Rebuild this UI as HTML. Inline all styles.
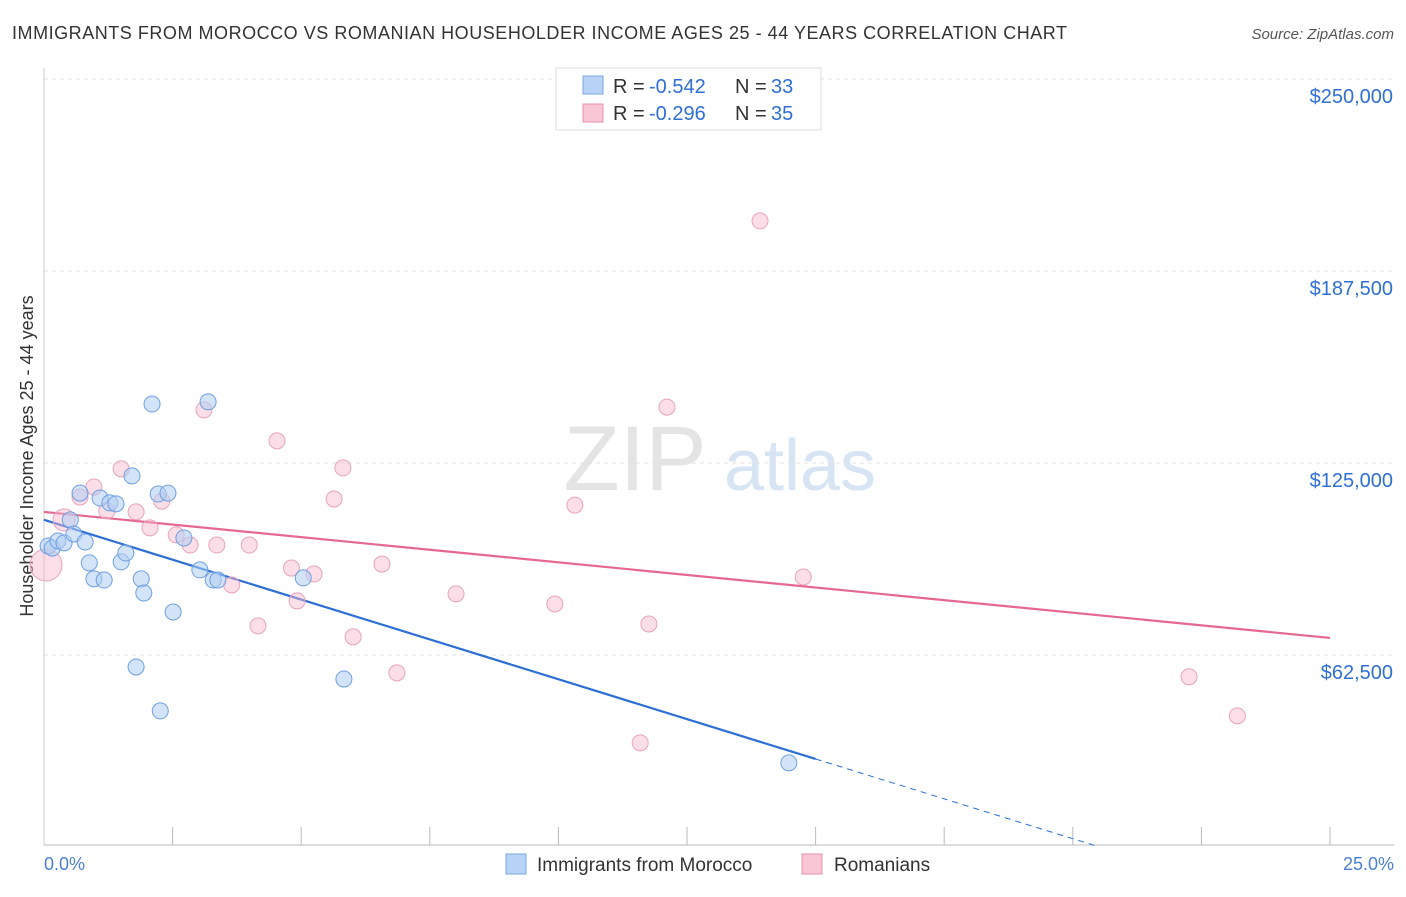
<!DOCTYPE html>
<html><head><meta charset="utf-8"><style>
body{margin:0;background:#fff;font-family:"Liberation Sans",sans-serif;}
svg text{font-family:"Liberation Sans",sans-serif;}
</style></head><body>
<svg id="chart" width="1406" height="892" xmlns="http://www.w3.org/2000/svg">
<text x="12" y="39" font-size="18" fill="#333" textLength="1055">IMMIGRANTS FROM MOROCCO VS ROMANIAN HOUSEHOLDER INCOME AGES 25 - 44 YEARS CORRELATION CHART</text>
<text x="1394" y="39" font-size="15" fill="#555" font-style="italic" text-anchor="end">Source: ZipAtlas.com</text>
<text x="33" y="456" font-size="18" fill="#333" text-anchor="middle" transform="rotate(-90 33 456)">Householder Income Ages 25 - 44 years</text>
<g>
<text x="635" y="490" font-size="92" fill="#e4e4e4" text-anchor="middle" font-family="Liberation Serif,serif">ZIP</text>
<text x="800" y="490" font-size="72" fill="#d6e4f4" text-anchor="middle">atlas</text>
</g>
<g id="grid"></g><g id="axes"></g><g id="trends"></g><g id="pts"></g>
<g>
<rect x="556" y="68" width="265" height="62" fill="#fff" stroke="#ddd"/>
<rect x="583" y="76" width="20" height="18" fill="#b8d3f5" stroke="#7aa7e0"/>
<text x="613" y="93" font-size="20" fill="#333">R =</text>
<text x="649" y="93" font-size="20" fill="#2f6fd6">-0.542</text>
<text x="735" y="93" font-size="20" fill="#333">N =</text>
<text x="771" y="93" font-size="20" fill="#2f6fd6">33</text>
<rect x="583" y="104" width="20" height="18" fill="#f8c6d5" stroke="#e890ab"/>
<text x="613" y="120" font-size="20" fill="#333">R =</text>
<text x="649" y="120" font-size="20" fill="#2f6fd6">-0.296</text>
<text x="735" y="120" font-size="20" fill="#333">N =</text>
<text x="771" y="120" font-size="20" fill="#2f6fd6">35</text>
</g>
<g>
<rect x="506" y="854" width="20" height="20" fill="#b8d3f5" stroke="#7aa7e0"/>
<text x="537" y="871" font-size="19" fill="#333">Immigrants from Morocco</text>
<rect x="802" y="854" width="20" height="20" fill="#f8c6d5" stroke="#e890ab"/>
<text x="834" y="871" font-size="19" fill="#333">Romanians</text>
</g>
<text x="44" y="870" font-size="18" fill="#4a7fd4">0.0%</text>
<text x="1394" y="870" font-size="18" fill="#4a7fd4" text-anchor="end">25.0%</text>
</svg>
<script>
const yTicks=[62500,125000,187500,250000];
const yTickLabels=["$62,500","$125,000","$187,500","$250,000"];
const moroccoX=[0.08,0.16,0.27,0.39,0.51,0.58,0.70,0.80,0.88,0.97,1.09,1.17,1.28,1.40,1.50,1.59,1.71,1.79,1.89,1.94,2.10,2.22,2.26,2.41,2.51,2.72,3.03,3.19,3.29,3.38,5.04,5.83,14.48];
const moroccoY=[98000,97300,99600,99000,106500,101900,115200,99300,92500,87300,113600,86900,112000,111700,92800,95700,120800,58600,87300,82700,144200,114900,44300,115200,76500,100600,90200,144900,86900,86900,87600,54700,27400];
const romX=[0.04,0.39,0.70,0.97,1.22,1.50,1.79,2.06,2.29,2.57,2.84,3.11,3.36,3.65,3.99,4.16,4.53,4.81,4.92,5.25,5.64,5.81,6.01,6.57,6.86,8.01,9.93,10.32,11.59,11.76,12.11,13.92,14.76,22.26,23.20];
const romY=[91800,106500,113900,117200,109400,123100,109100,103900,112600,101600,98300,142300,98300,85300,98300,72000,132200,90800,80100,88900,113300,123400,68400,92100,56700,82400,79100,111300,33900,72600,143200,203800,87900,55400,42700];
const romR=[16,11,8,8,8,8,8,8,8,8,8,8,8,8,8,8,8,8,8,8,8,8,8,8,8,8,8,8,8,8,8,8,8,8,8];
const moroccoTrend=[106500,-5190];
const romTrend=[109060,-1640];
const NS="http://www.w3.org/2000/svg";
const sx=v=>44+v/25*1286;
const sy=v=>79+(250000-v)/62500*192;
function mk(t,a,p){const e=document.createElementNS(NS,t);for(const k in a)e.setAttribute(k,a[k]);p.appendChild(e);return e;}
const grid=document.getElementById('grid'),axes=document.getElementById('axes'),tr=document.getElementById('trends'),pts=document.getElementById('pts');
yTicks.forEach((v,i)=>{
 const l=mk('line',{x1:44,x2:1394,y1:sy(v),y2:sy(v),stroke:'#e2e2e2','stroke-dasharray':'4 4'},grid);
 
 
 const t=mk('text',{x:1393,y:sy(v)+24,'font-size':20,fill:'#2f6fd6','text-anchor':'end'},axes);
 t.textContent=yTickLabels[i];
 
 
});
const ax=mk('line',{x1:44,x2:1394,y1:845,y2:845,stroke:'#bbb'},axes);


const ay=mk('line',{x1:44,x2:44,y1:68,y2:845,stroke:'#ccc'},axes);


for(let i=1;i<=10;i++){
 const t=mk('line',{x1:sx(i*2.5),x2:sx(i*2.5),y1:827,y2:845,stroke:'#bbb'},axes);
 
 
}
function line(tr0,x0,x1,col,dash,name){
 const e=mk('line',{x1:sx(x0),y1:sy(tr0[0]+tr0[1]*x0),x2:sx(x1),y2:sy(tr0[0]+tr0[1]*x1),stroke:col,'stroke-width':dash?1:2.2,'stroke-dasharray':dash?'6 5':'none'},tr);
 
 
}
line(moroccoTrend,0,15,'#2c6fd6',false,'morocco-trend-line');
line(moroccoTrend,15,20.5,'#2c6fd6',true,'morocco-trend-extension');
line(romTrend,0,25,'#e5688f',false,'romanians-trend-line');
romX.forEach((x,i)=>{
 const c=mk('circle',{cx:sx(x),cy:sy(romY[i]),r:romR[i],fill:'rgba(246,182,203,0.45)',stroke:'#e9a3ba','stroke-width':1},pts);
 
 
});
moroccoX.forEach((x,i)=>{
 const c=mk('circle',{cx:sx(x),cy:sy(moroccoY[i]),r:8,fill:'rgba(176,205,243,0.55)',stroke:'#6e9fe0','stroke-width':1},pts);
 
 
});
</script>
</body></html>
